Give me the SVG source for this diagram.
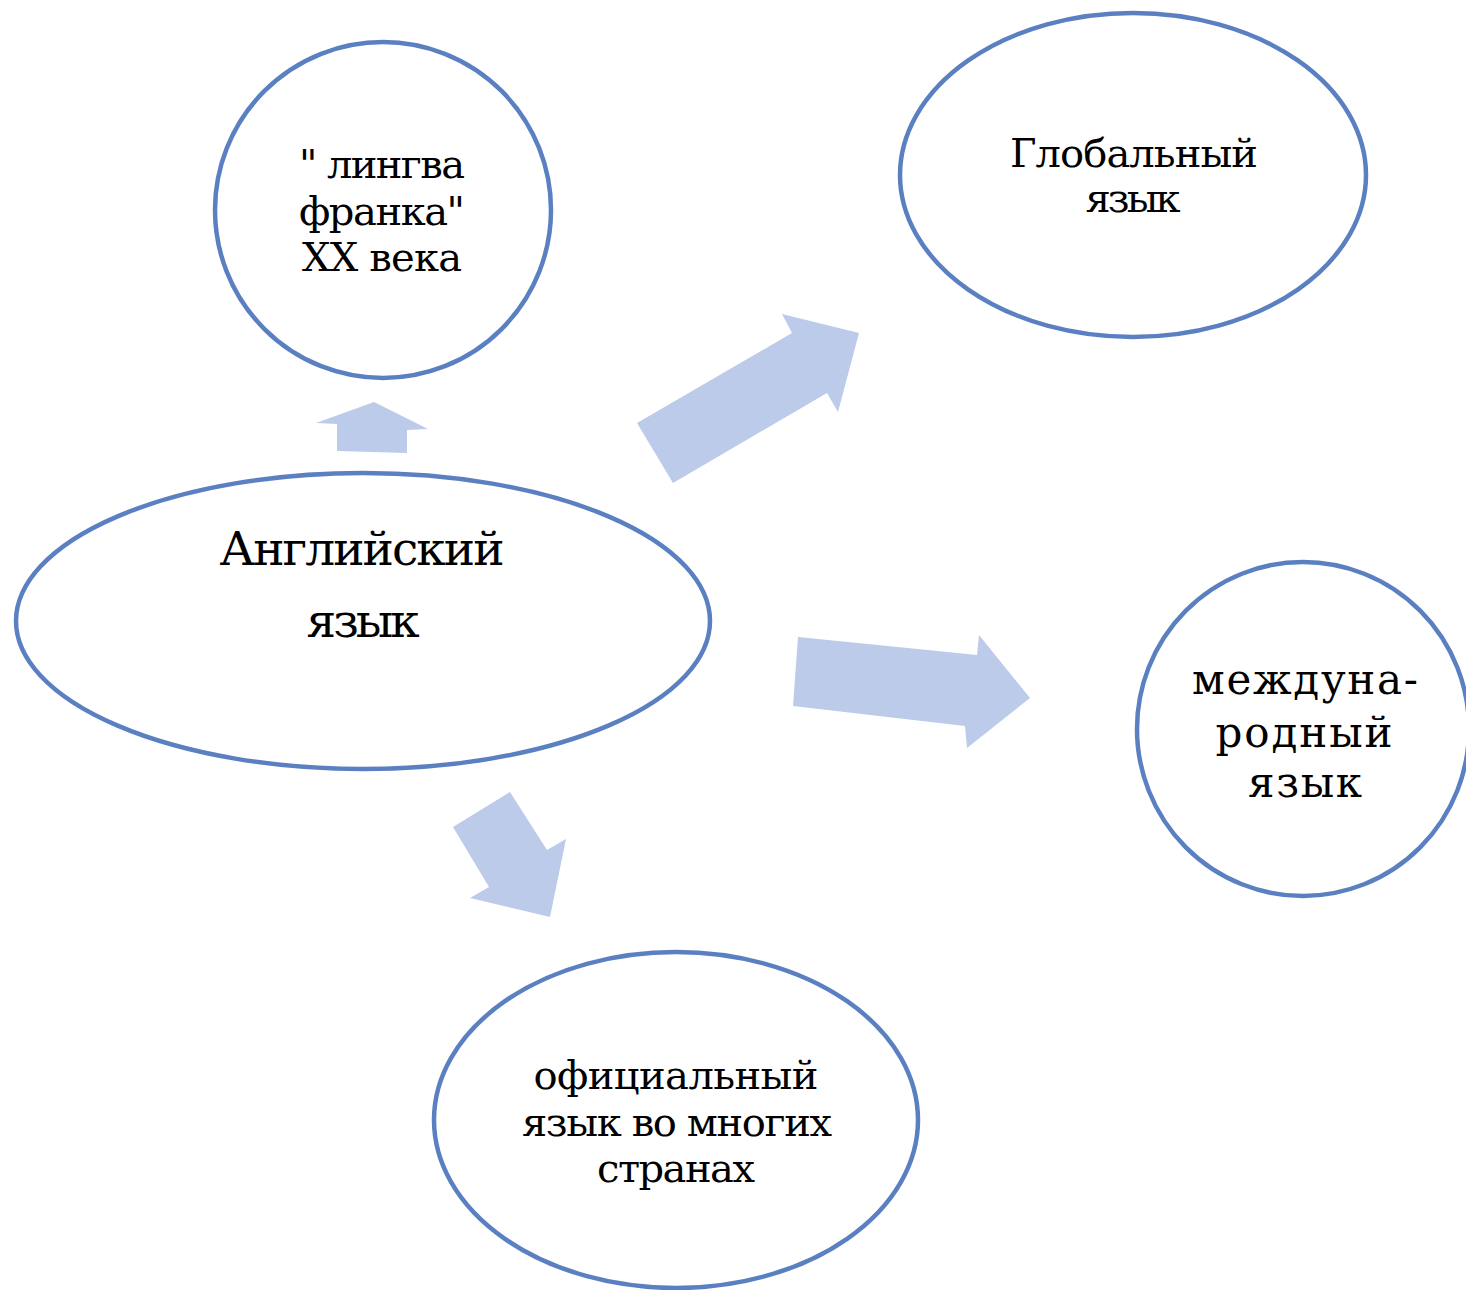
<svg xmlns="http://www.w3.org/2000/svg" width="1466" height="1290" viewBox="0 0 1466 1290">
<style>
.n{fill:#fff;stroke:#5b80c2;stroke-width:4.5}
.a{fill:#bccbe9}
.t{font-size:40px}
.b{font-size:47px}
.c{font-size:42px}
</style>
<rect width="1466" height="1290" fill="#fff"/>
<g id="connectors">
<polygon class="a" points="374,402 428,429 407,430 407,453 337,451 337,424 316,423"/>
<polygon class="a" points="637,423 792,333 782,314 859,333 838,412 827,393 673,483"/>
<polygon class="a" points="798,637 977,655 979,635 1030,698 967,748 965,726 793,706"/>
<polygon class="a" points="453,827 510,792 547,850 566,839 550,917 470,898 489,887"/>
</g>
<g font-family="DejaVu Serif, serif" text-anchor="middle" fill="#000">
<g id="lingva">
<ellipse class="n" cx="383" cy="210" rx="168" ry="168"/>
<text class="t" x="382" y="178" textLength="166">" лингва</text>
<text class="t" x="382" y="225" textLength="166">франка"</text>
<text class="t" x="382" y="271" textLength="160">XX века</text>
</g>
<g id="global">
<ellipse class="n" cx="1133" cy="175" rx="233" ry="162"/>
<text class="t" x="1134" y="167" textLength="248">Глобальный</text>
<text class="t" x="1133" y="212" textLength="95">язык</text>
</g>
<g id="english">
<ellipse class="n" cx="363" cy="621" rx="347" ry="148"/>
<text class="b" x="362" y="565" textLength="285">Английский</text>
<text class="b" x="363" y="637" textLength="113">язык</text>
</g>
<g id="international">
<ellipse class="n" cx="1303" cy="729" rx="166" ry="167"/>
<text class="c" x="1305" y="694" textLength="226">междуна-</text>
<text class="c" x="1304" y="747" textLength="177">родный</text>
<text class="c" x="1305" y="797" textLength="114">язык</text>
</g>
<g id="official">
<ellipse class="n" cx="676" cy="1120" rx="242" ry="168"/>
<text class="t" x="676" y="1089" textLength="285">официальный</text>
<text class="t" x="677" y="1136" textLength="310">язык во многих</text>
<text class="t" x="676" y="1182" textLength="158">странах</text>
</g>
</g>
</svg>
